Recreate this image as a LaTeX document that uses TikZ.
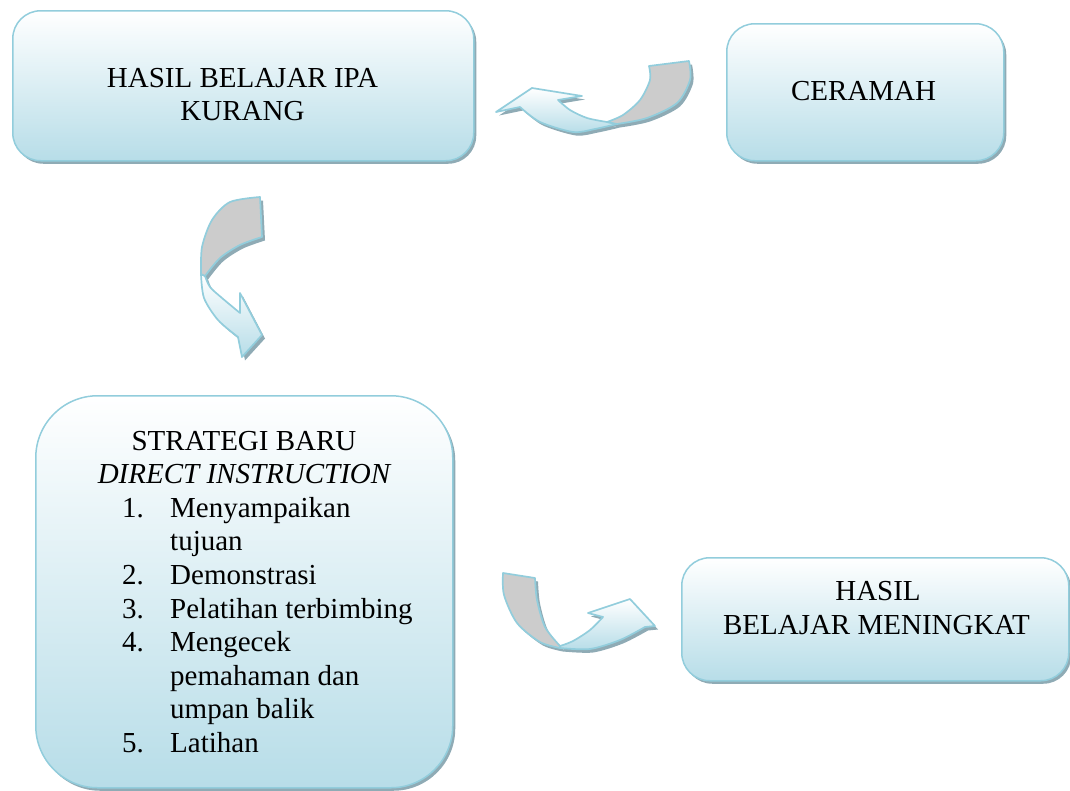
\documentclass[tikz,border=0pt]{standalone}
\usepackage{fontspec}
\setmainfont{Liberation Serif}
\usetikzlibrary{shadows}
\definecolor{edgeblue}{HTML}{92CDDC}
\definecolor{fillblue}{HTML}{B7DDE8}
\definecolor{shadowc}{HTML}{8FABB5}
\definecolor{backgray}{HTML}{CCCCCC}
\tikzset{
  box/.style={draw=edgeblue, line width=1.5pt, top color=white, bottom color=fillblue,
    rounded corners=#1, inner sep=0pt, anchor=north west,
    drop shadow={shadow xshift=2.5pt, shadow yshift=-3pt, fill=shadowc, opacity=1}},
  box/.default=28pt,
  txt/.style={font=\fontsize{29}{33.6}\selectfont, inner sep=0pt, anchor=base},
  numtxt/.style={txt, anchor=base west},
  backside/.style={fill=backgray, draw=edgeblue, line width=1.7pt, line join=round},
  frontside/.style={top color=white, bottom color=fillblue, draw=edgeblue, line width=1.7pt, line join=round},
  arrowshadow/.style={fill=shadowc}
}
\begin{document}
\begin{tikzpicture}[x=1pt,y=-1pt]
\useasboundingbox (0,0) rectangle (1070,790);

% boxes
\node[box, minimum width=461pt, minimum height=150pt] (kurang) at (12,10) {};
\node[box, minimum width=277pt, minimum height=137pt] (ceramah) at (726,23) {};
\node[box=62pt, minimum width=417pt, minimum height=392pt] (strategi) at (35,395) {};
\node[box, minimum width=387pt, minimum height=123pt] (meningkat) at (681,557) {};

% texts
\node[txt] (t1a) at (242.5,87) {HASIL BELAJAR IPA};
\node[txt] (t1b) at (242.5,120) {KURANG};
\node[txt] (t2) at (863.5,100) {CERAMAH};
\node[txt] (t3a) at (244,450) {STRATEGI BARU};
\node[txt] (t3b) at (244,483.6) {\itshape DIRECT INSTRUCTION};
\node[numtxt] (n1) at (122,517.2) {1.};
\node[numtxt] (i1) at (170,517.2) {Menyampaikan};
\node[numtxt] (i1b) at (170,550.8) {tujuan};
\node[numtxt] (n2) at (122,584.4) {2.};
\node[numtxt] (i2) at (170,584.4) {Demonstrasi};
\node[numtxt] (n3) at (122,618) {3.};
\node[numtxt] (i3) at (170,618) {Pelatihan terbimbing};
\node[numtxt] (n4) at (122,651.6) {4.};
\node[numtxt] (i4) at (170,651.6) {Mengecek};
\node[numtxt] (i4b) at (170,685.2) {pemahaman dan};
\node[numtxt] (i4c) at (170,718.8) {umpan balik};
\node[numtxt] (n5) at (122,752.4) {5.};
\node[numtxt] (i5) at (170,752.4) {Latihan};
\node[txt] (t4a) at (878,600) {HASIL};
\node[txt] (t4b) at (876.5,634) {BELAJAR MENINGKAT};

% arrow shadows
\begin{scope}[shift={(3,3.5)}]
\path[arrowshadow] (649,66) -- (689,61) -- plot[smooth] coordinates {(689,61) (690,80) (677,103) (647,118) (617,124)} -- (607,122) -- plot[smooth] coordinates {(607,122) (623,115) (640,100) (650,80) (649,66)} -- cycle;
\path[arrowshadow] (607,122) -- (617,124) -- plot[smooth] coordinates {(617,124) (595,129) (573,132) (540,122) (520,107)} -- (496,112) -- (532,88) -- (582,96) -- (558,100) -- plot[smooth] coordinates {(558,100) (570,110) (587,118) (607,122)} -- cycle;
\path[arrowshadow] (260,197) -- (262,237) -- plot[smooth] coordinates {(262,237) (240,245) (220,258) (205,276)} -- (201,274) -- plot[smooth] coordinates {(201,274) (202,247) (212,220) (230,202) (260,197)} -- cycle;
\path[arrowshadow] (205,276) -- (201,274) -- plot[smooth] coordinates {(201,274) (204,298) (218,320) (238,337)} -- (242,357) -- (262,335) -- (240,293) -- (240,313) -- plot[smooth] coordinates {(240,313) (222,298) (210,287) (205,276)} -- cycle;
\path[arrowshadow] (503,573) -- (535,578) -- plot[smooth] coordinates {(535,578) (537,600) (545,627) (560,646)} -- (560,648) -- plot[smooth] coordinates {(560,648) (540,642) (517,623) (504,595) (503,573)} -- cycle;
\path[arrowshadow] (560,646) -- (560,648) -- plot[smooth] coordinates {(560,648) (590,649) (620,640) (645,627)} -- (655,626) -- (630,599) -- (588,613) -- (603,617) -- plot[smooth] coordinates {(603,617) (590,630) (573,641) (560,646)} -- cycle;
\end{scope}

% arrow 1: ceramah -> hasil belajar kurang
\path[frontside] (607,122) -- (617,124) -- plot[smooth] coordinates {(617,124) (595,129) (573,132) (540,122) (520,107)} -- (496,112) -- (532,88) -- (582,96) -- (558,100) -- plot[smooth] coordinates {(558,100) (570,110) (587,118) (607,122)} -- cycle;
\path[backside] (649,66) -- (689,61) -- plot[smooth] coordinates {(689,61) (690,80) (677,103) (647,118) (617,124)} -- (607,122) -- plot[smooth] coordinates {(607,122) (623,115) (640,100) (650,80) (649,66)} -- cycle;

% arrow 2: kurang -> strategi
\path[frontside] (205,276) -- (201,274) -- plot[smooth] coordinates {(201,274) (204,298) (218,320) (238,337)} -- (242,357) -- (262,335) -- (240,293) -- (240,313) -- plot[smooth] coordinates {(240,313) (222,298) (210,287) (205,276)} -- cycle;
\path[backside] (260,197) -- (262,237) -- plot[smooth] coordinates {(262,237) (240,245) (220,258) (205,276)} -- (201,274) -- plot[smooth] coordinates {(201,274) (202,247) (212,220) (230,202) (260,197)} -- cycle;

% arrow 3: strategi -> meningkat
\path[frontside] (560,646) -- (560,648) -- plot[smooth] coordinates {(560,648) (590,649) (620,640) (645,627)} -- (655,626) -- (630,599) -- (588,613) -- (603,617) -- plot[smooth] coordinates {(603,617) (590,630) (573,641) (560,646)} -- cycle;
\path[backside] (503,573) -- (535,578) -- plot[smooth] coordinates {(535,578) (537,600) (545,627) (560,646)} -- (560,648) -- plot[smooth] coordinates {(560,648) (540,642) (517,623) (504,595) (503,573)} -- cycle;
\end{tikzpicture}
\end{document}
